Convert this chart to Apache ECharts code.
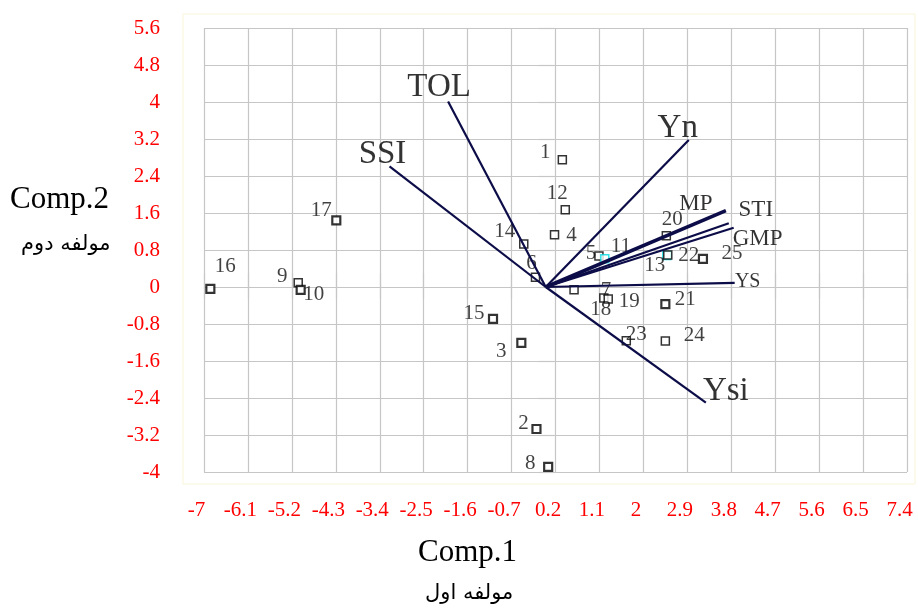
<!DOCTYPE html>
<html>
<head>
<meta charset="utf-8">
<script src="https://cdn.jsdelivr.net/npm/echarts@6/dist/echarts.min.js"></script>
<style>
html,body{margin:0;padding:0;background:#fff;}
#chart{width:918px;height:608px;}
</style>
</head>
<body>
<div id="chart"></div>
<script>
// ---- data ----
const genotypes = ['1','2','3','4','5','6','7','8','9','10','11','12','13','14','15','16','17','18','19','20','21','22','23','24','25'];
const comp1 = [0.34,-0.19,-0.50,0.18,1.09,-0.21,0.58,0.05,-5.07,-5.02,1.21,0.40,2.48,-0.45,-1.08,-6.87,-4.29,1.19,1.28,2.47,2.45,2.50,1.65,2.45,3.22];
const comp2 = [2.75,-3.07,-1.21,1.13,0.67,0.21,-0.06,-3.89,0.09,-0.06,0.61,1.67,0.68,0.93,-0.69,-0.04,1.44,-0.24,-0.26,1.11,-0.37,0.69,-1.16,-1.17,0.61];
const traits = ['TOL','SSI','Yn','MP','STI','GMP','YS','Ysi'];
const traitComp1 = [-2.00,-3.20,2.93,3.69,3.75,3.85,3.87,3.28];
const traitComp2 = [4.01,2.61,3.18,1.65,1.38,1.28,0.09,-2.50];
const xAxisMin = -7, xAxisMax = 7.4, xAxisStep = 0.9;
const yAxisMin = -4, yAxisMax = 5.6, yAxisStep = 0.8;

// ---- styles ----
const serif = '"Liberation Serif","Times New Roman","DejaVu Serif",serif';
const ptLabelOffset = {
  '1':[-17,-7],'2':[-13,-6],'3':[-20,9],'4':[17,1],'5':[-8,-3],'6':[-4,-14],'7':[32,1],'8':[-18,-3],
  '9':[-16,-6],'10':[13,5],'11':[16,-12],'12':[-8,-16],'13':[-12,10],'14':[-19,-13],'15':[-19,-5],
  '16':[15,-22],'17':[-15,-10],'18':[-3,11],'19':[21,2],'20':[6,-16],'21':[20,-5],'22':[21,0],
  '23':[10,-6],'24':[29,-6],'25':[29,-5]
};
const heavyPts = {'2':true,'3':true,'8':true,'15':true,'16':true,'10':true,'17':true,'21':true,'25':true};
const cyanPts = {'11':true,'13':true};
const traitLabelStyle = {
  'TOL':{off:[-9,-14],size:33},
  'SSI':{off:[-7,-12],size:33},
  'Yn':{off:[-11,-12],size:33},
  'MP':{off:[-30,-7],size:23},
  'STI':{off:[27,-13],size:23},
  'GMP':{off:[24,11],size:23},
  'YS':{off:[13,-1],size:20},
  'Ysi':{off:[20,-11],size:33}
};
const vecColor = '#0c0c48';

const series = [];
series.push({
  type:'scatter', z:3, symbol:'rect', symbolSize:8, silent:true,
  data: genotypes.map((g,i)=>({
    name:g, value:[comp1[i],comp2[i]],
    itemStyle:{color:'#fff', borderColor: cyanPts[g]?'#00d8e0':'#000', borderWidth: heavyPts[g]?2.2:1.5},
    label:{offset:ptLabelOffset[g]}
  })),
  label:{show:true, position:'inside', align:'center', verticalAlign:'middle',
    formatter:p=>p.name, color:'#111', fontFamily:serif, fontSize:21}
});
traits.forEach((t,i)=>{
  series.push({
    type:'line', silent:true, showSymbol:false, symbol:'none', z:4,
    lineStyle:{color:vecColor, width: t==='MP'?3.6:2.2},
    data:[[0,0],[traitComp1[i],traitComp2[i]]]
  });
});
series.push({
  type:'scatter', z:6, symbolSize:0, silent:true,
  data: traits.map((t,i)=>({
    name:t, value:[traitComp1[i],traitComp2[i]],
    label:{offset:traitLabelStyle[t].off, fontSize:traitLabelStyle[t].size}
  })),
  label:{show:true, position:'inside', align:'center', verticalAlign:'middle',
    formatter:p=>p.name, color:'#000', fontFamily:serif}
});

const gridColor = '#c6c6c6';
const baseX = {type:'value', min:xAxisMin, max:xAxisMax, interval:xAxisStep};
const baseY = {type:'value', min:yAxisMin, max:yAxisMax, interval:yAxisStep};

const chart = echarts.init(document.getElementById('chart'), null, {renderer:'canvas'});
chart.setOption({
  animation:false,
  backgroundColor:'#fff',
  grid:{left:204, right:11, top:28, bottom:136, containLabel:false},
  xAxis:[
    Object.assign({}, baseX, {
      position:'bottom',
      axisLine:{show:false},
      axisTick:{show:true, length:12, lineStyle:{color:gridColor, width:1.2}},
      splitLine:{show:true, lineStyle:{color:gridColor, width:1.2}},
      axisLabel:{color:'#ff0000', fontFamily:serif, fontSize:21, margin:28, padding:[0,15,0,0],
        formatter:v=>String(Math.round(v*10)/10)}
    }),
    Object.assign({}, baseX, {
      position:'top',
      axisLine:{show:false},
      axisTick:{show:true, length:14, lineStyle:{color:gridColor, width:1.2}},
      splitLine:{show:false}, axisLabel:{show:false}
    })
  ],
  yAxis:[
    Object.assign({}, baseY, {
      position:'left',
      axisLine:{show:false},
      axisTick:{show:true, length:7, lineStyle:{color:gridColor, width:1.2}},
      splitLine:{show:true, lineStyle:{color:gridColor, width:1.2}},
      axisLabel:{color:'#ff0000', fontFamily:serif, fontSize:21, margin:44, align:'right',
        formatter:v=>String(Math.round(v*10)/10)}
    }),
    Object.assign({}, baseY, {
      position:'right',
      axisLine:{show:false},
      axisTick:{show:true, length:8, lineStyle:{color:gridColor, width:1.2}},
      splitLine:{show:false}, axisLabel:{show:false}
    })
  ],
  graphic:[
    {type:'rect', silent:true, z:-1, shape:{x:183,y:14,width:732,height:470},
      style:{fill:null, stroke:'#f8f5d8', lineWidth:1}},
    {type:'text', left:10, top:184, style:{text:'Comp.2', font:'31px '+serif, fill:'#000'}},
    {type:'text', left:21, top:234, style:{text:'مولفه دوم', font:'21px "DejaVu Sans",sans-serif', fill:'#000'}},
    {type:'text', left:418, top:537, style:{text:'Comp.1', font:'31px '+serif, fill:'#000'}},
    {type:'text', left:425, top:583, style:{text:'مولفه اول', font:'21px "DejaVu Sans",sans-serif', fill:'#000'}}
  ],
  series: series
});
</script>
</body>
</html>
